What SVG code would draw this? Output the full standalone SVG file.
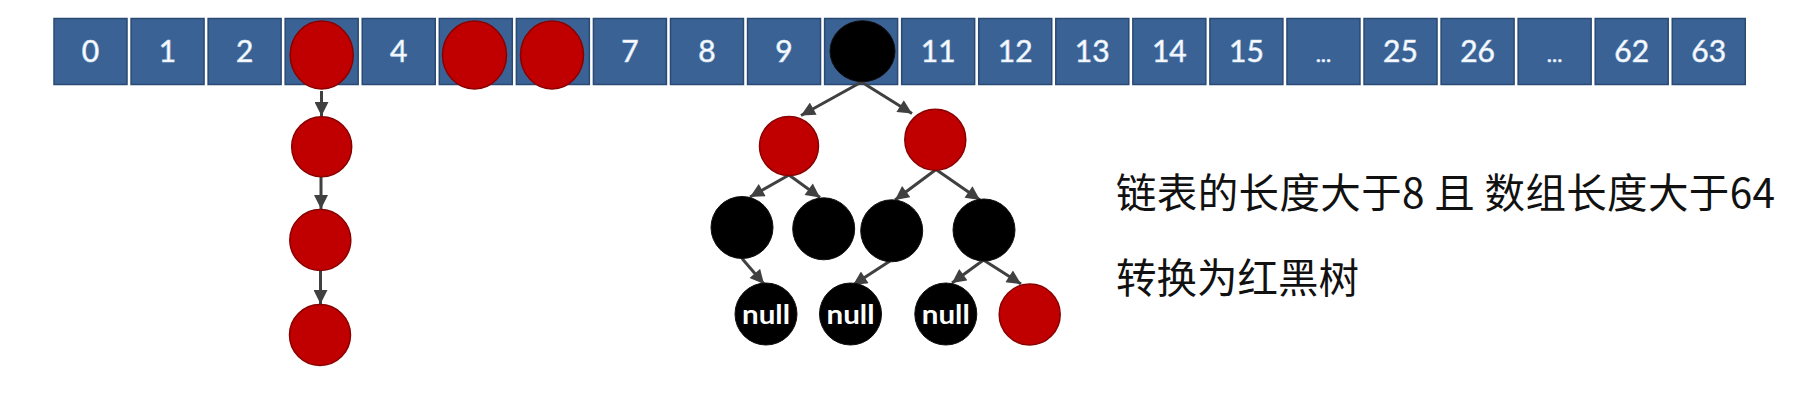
<svg xmlns="http://www.w3.org/2000/svg" width="1816" height="406" viewBox="0 0 1816 406">
  <style>
    .cell { fill: #3A6294; stroke: #2A4A74; stroke-width: 1.5; }
    .lbl { fill: #ffffff; font-family: Lato, "Open Sans", sans-serif; font-size: 30px; text-anchor: middle; stroke: #cfe0f5; stroke-width: 0.7; }
    .red { fill: #C00000; stroke: #8A0000; stroke-width: 1.5; }
    .blk { fill: #000000; stroke: #111111; stroke-width: 1; }
    .null { fill: #ffffff; font-family: Lato, "Open Sans", sans-serif; font-weight: bold; font-size: 27px; text-anchor: middle; }
    .edge { stroke: #404040; stroke-width: 3; fill: none; marker-end: url(#arr); }
    .note { fill: #111111; font-family: "Noto Sans CJK SC", "Noto Sans", sans-serif; font-size: 40.5px; }
  </style>
  <defs>
    <marker id="arr" viewBox="0 0 10 10" refX="10" refY="5" markerUnits="userSpaceOnUse" markerWidth="15" markerHeight="14" orient="auto">
      <path d="M0,0 L10,5 L0,10 z" fill="#404040"/>
    </marker>
  </defs>
  <rect width="1816" height="406" fill="#ffffff"/>

  <g id="array">
    <g id="cell-0"><rect class="cell" x="54" y="18.5" width="73" height="66"/><text class="lbl" x="90.5" y="61.5">0</text></g>
    <g id="cell-1"><rect class="cell" x="131.06" y="18.5" width="73" height="66"/><text class="lbl" x="167.56" y="61.5">1</text></g>
    <g id="cell-2"><rect class="cell" x="208.12" y="18.5" width="73" height="66"/><text class="lbl" x="244.62" y="61.5">2</text></g>
    <g id="cell-3"><rect class="cell" x="285.18" y="18.5" width="73" height="66"/></g>
    <g id="cell-4"><rect class="cell" x="362.24" y="18.5" width="73" height="66"/><text class="lbl" x="398.74" y="61.5">4</text></g>
    <g id="cell-5"><rect class="cell" x="439.3" y="18.5" width="73" height="66"/></g>
    <g id="cell-6"><rect class="cell" x="516.36" y="18.5" width="73" height="66"/></g>
    <g id="cell-7"><rect class="cell" x="593.42" y="18.5" width="73" height="66"/><text class="lbl" x="629.92" y="61.5">7</text></g>
    <g id="cell-8"><rect class="cell" x="670.48" y="18.5" width="73" height="66"/><text class="lbl" x="706.98" y="61.5">8</text></g>
    <g id="cell-9"><rect class="cell" x="747.54" y="18.5" width="73" height="66"/><text class="lbl" x="784.04" y="61.5">9</text></g>
    <g id="cell-10"><rect class="cell" x="824.6" y="18.5" width="73" height="66"/></g>
    <g id="cell-11"><rect class="cell" x="901.66" y="18.5" width="73" height="66"/><text class="lbl" x="938.16" y="61.5">11</text></g>
    <g id="cell-12"><rect class="cell" x="978.72" y="18.5" width="73" height="66"/><text class="lbl" x="1015.22" y="61.5">12</text></g>
    <g id="cell-13"><rect class="cell" x="1055.78" y="18.5" width="73" height="66"/><text class="lbl" x="1092.28" y="61.5">13</text></g>
    <g id="cell-14"><rect class="cell" x="1132.84" y="18.5" width="73" height="66"/><text class="lbl" x="1169.34" y="61.5">14</text></g>
    <g id="cell-15"><rect class="cell" x="1209.9" y="18.5" width="73" height="66"/><text class="lbl" x="1246.4" y="61.5">15</text></g>
    <g id="cell-dots1"><rect class="cell" x="1286.96" y="18.5" width="73" height="66"/><text class="lbl" x="1323.46" y="61.5" style="font-size:22px">...</text></g>
    <g id="cell-25"><rect class="cell" x="1364.02" y="18.5" width="73" height="66"/><text class="lbl" x="1400.52" y="61.5">25</text></g>
    <g id="cell-26"><rect class="cell" x="1441.08" y="18.5" width="73" height="66"/><text class="lbl" x="1477.58" y="61.5">26</text></g>
    <g id="cell-dots2"><rect class="cell" x="1518.14" y="18.5" width="73" height="66"/><text class="lbl" x="1554.64" y="61.5" style="font-size:22px">...</text></g>
    <g id="cell-62"><rect class="cell" x="1595.2" y="18.5" width="73" height="66"/><text class="lbl" x="1631.7" y="61.5">62</text></g>
    <g id="cell-63"><rect class="cell" x="1672.26" y="18.5" width="73" height="66"/><text class="lbl" x="1708.76" y="61.5">63</text></g>
  </g>

  <g id="connectors">
    <line class="edge" x1="321.5" y1="91" x2="321.5" y2="116"/>
    <line class="edge" x1="321" y1="177" x2="321" y2="209"/>
    <line class="edge" x1="320.5" y1="271" x2="320.5" y2="304"/>

    <line class="edge" x1="861.5" y1="82" x2="801" y2="115.5"/>
    <line class="edge" x1="861.5" y1="82" x2="912" y2="113.5"/>
    <line class="edge" x1="789" y1="175" x2="750" y2="197"/>
    <line class="edge" x1="789" y1="175" x2="820" y2="197.5"/>
    <line class="edge" x1="936" y1="169.5" x2="895" y2="200"/>
    <line class="edge" x1="936" y1="169.5" x2="980" y2="200"/>
    <line class="edge" x1="742" y1="258.5" x2="764" y2="284"/>
    <line class="edge" x1="890" y1="261" x2="853" y2="285"/>
    <line class="edge" x1="983.5" y1="260" x2="952" y2="283"/>
    <line class="edge" x1="983.5" y1="260" x2="1021" y2="284"/>
  </g>

  <g id="bucket-3"><ellipse class="red" cx="321.7" cy="55" rx="31.5" ry="34"/></g>
  <g id="bucket-5"><ellipse class="red" cx="474.5" cy="55" rx="32" ry="34"/></g>
  <g id="bucket-6"><ellipse class="red" cx="552" cy="55" rx="31.5" ry="34"/></g>

  <g id="list-1"><circle class="red" cx="321.7" cy="146.7" r="30"/></g>
  <g id="list-2"><circle class="red" cx="320.3" cy="240" r="30.5"/></g>
  <g id="list-3"><circle class="red" cx="320" cy="335" r="30.5"/></g>

  <g id="tree-root"><ellipse class="blk" cx="862.5" cy="51.2" rx="32.5" ry="30.5"/></g>
  <g id="tree-l"><circle class="red" cx="789" cy="146" r="29.5"/></g>
  <g id="tree-r"><circle class="red" cx="935.3" cy="139.7" r="30.5"/></g>
  <g id="tree-ll"><circle class="blk" cx="742" cy="227.5" r="31"/></g>
  <g id="tree-lr"><circle class="blk" cx="823.7" cy="228.8" r="31"/></g>
  <g id="tree-rl"><circle class="blk" cx="891.7" cy="230.8" r="31"/></g>
  <g id="tree-rr"><circle class="blk" cx="984" cy="230" r="31"/></g>
  <g id="null-1"><circle class="blk" cx="766" cy="314" r="31"/><text class="null" x="766" y="323.5" textLength="48" lengthAdjust="spacingAndGlyphs">null</text></g>
  <g id="null-2"><circle class="blk" cx="850.5" cy="314" r="31"/><text class="null" x="850.5" y="323.5" textLength="48" lengthAdjust="spacingAndGlyphs">null</text></g>
  <g id="null-3"><circle class="blk" cx="945.8" cy="314" r="31"/><text class="null" x="945.8" y="323.5" textLength="48" lengthAdjust="spacingAndGlyphs">null</text></g>
  <g id="tree-rrr"><circle class="red" cx="1029.7" cy="314.5" r="30.5"/></g>

  <g id="note">
    <text class="note" x="1116" y="208" textLength="659" lengthAdjust="spacing">链表的长度大于8 且 数组长度大于64</text>
    <text class="note" x="1116" y="293">转换为红黑树</text>
  </g>
</svg>
